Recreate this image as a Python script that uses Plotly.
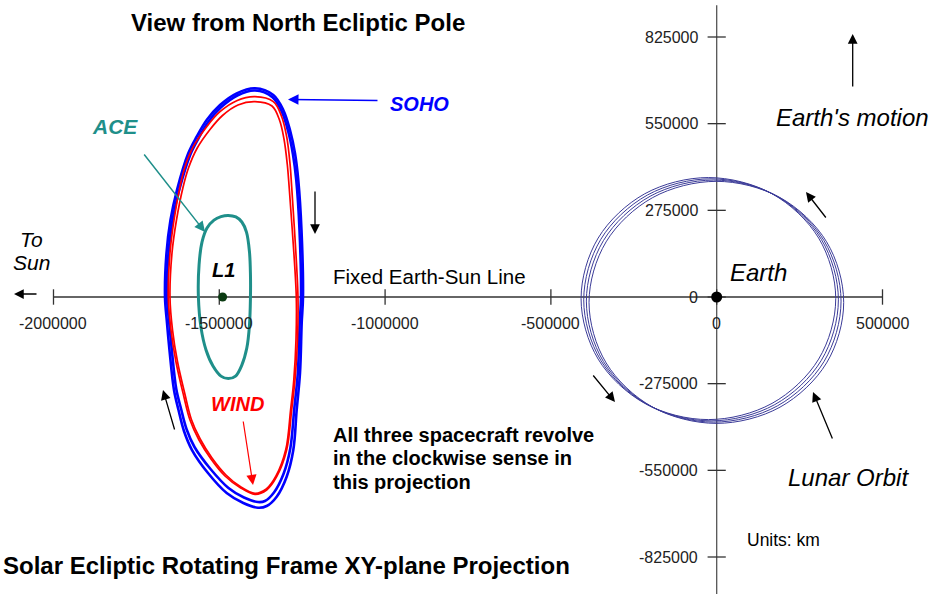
import plotly.graph_objects as go

W, H = 933, 594
X_RANGE = [-2161300, 652300]
Y_RANGE = [-942400, 942400]

# ---- axis ticks ----
x_tickvals = [-2000000, -1500000, -1000000, -500000, 0, 500000]
x_ticktext = ["-2000000", "-1500000", "-1000000", "-500000", "0", "500000"]
y_tickvals = [825000, 550000, 275000, 0, -275000, -550000, -825000]
y_ticktext = ["825000", "550000", "275000", "0", "-275000", "-550000", "-825000"]
x_axis_span = [-2000000, 500000]
y_axis_span = [926000, -942400]

# ---- SOHO (two loops) ----
soho1_x = [-1663700, -1659200, -1647200, -1627600, -1593500, -1568200, -1538000, -1497900, -1447500, -1392300,
           -1337100, -1307000, -1286800, -1271700, -1261800, -1252100, -1247600, -1251500, -1256600, -1266600,
           -1276800, -1296800, -1326900, -1357100, -1383300, -1427600, -1477700, -1534100, -1582300, -1606500,
           -1623000, -1636600, -1650200, -1657700]
soho1_y = [0, 139600, 244300, 339500, 456000, 508600, 561600, 609200, 646300, 662200,
           640900, 593400, 529900, 456000, 371200, 212600, 0, -82500, -241100, -358500,
           -485500, -570200, -633600, -663200, -668500, -653600, -621900, -558400, -485500, -425200,
           -358500, -295100, -168200, -82500]
soho2_x = [-1657700, -1653200, -1641200, -1621600, -1587800, -1563100, -1533500, -1494900, -1445700, -1392300,
           -1339500, -1311500, -1292200, -1277800, -1267800, -1258100, -1253600, -1257500, -1263200, -1274100,
           -1285900, -1306400, -1335100, -1362200, -1383300, -1425600, -1472300, -1526500, -1574800, -1598900,
           -1615500, -1629700, -1643300, -1651100]
soho2_y = [0, 139600, 242700, 336300, 450600, 502900, 555300, 601900, 639400, 655200,
           634000, 587600, 525100, 452200, 369700, 212600, 0, -82500, -241100, -357000,
           -480700, -561600, -620300, -647300, -650500, -636200, -606000, -545800, -476000, -418800,
           -353800, -291900, -166600, -80900]

# ---- WIND (two loops) ----
wind1_x = [-1653800, -1648700, -1636600, -1618500, -1603400, -1578400, -1538000, -1497900, -1447500, -1392300,
           -1337100, -1311800, -1296800, -1286800, -1281700, -1273200, -1262700, -1264200, -1271700, -1281700,
           -1296800, -1326900, -1357100, -1392300, -1437600, -1482800, -1525000, -1561200, -1588400, -1608000,
           -1630600, -1645700]
wind1_y = [0, 139600, 244300, 350000, 413400, 476900, 540400, 588000, 622900, 635600,
           619700, 572100, 508600, 424200, 350000, 212600, 0, -136400, -263400, -358500,
           -485500, -570200, -612400, -626000, -604500, -568000, -514000, -453700, -390300, -311000,
           -206200, -104700]
wind2_x = [-1648700, -1642600, -1629100, -1609500, -1592900, -1567300, -1528000, -1490300, -1443600, -1392300,
           -1341100, -1318500, -1304900, -1294900, -1289200, -1279900, -1267800, -1268700, -1275300, -1285000,
           -1299500, -1329000, -1358300, -1392300, -1436700, -1479800, -1522000, -1557600, -1584400, -1603400,
           -1626100, -1641100]
wind2_y = [0, 139600, 244300, 347400, 409300, 471200, 531500, 575900, 609200, 619700,
           606000, 561600, 501300, 420400, 347400, 212600, 0, -136400, -263400, -358500,
           -483900, -568000, -609200, -622900, -601300, -564800, -510900, -450600, -387700, -309400,
           -204700, -104100]

# ---- ACE ----
ace_x = [-1563000, -1561000, -1552000, -1537000, -1516000, -1495000, -1473000, -1450000, -1432000,
         -1418000, -1409000, -1406000, -1406000, -1409000, -1417000, -1432000, -1451000, -1473000,
         -1495000, -1519000, -1540000, -1555000]
ace_y = [0, 102000, 175000, 219000, 244000, 255000, 259000, 254000, 238000,
         206000, 143000, 70000, 0, -89000, -162000, -216000, -251000, -259000,
         -251000, -219000, -168000, -98000]

# ---- Lunar orbit (four loops) ----
moon1_x = [359000, 307500, 167000, -25000, -217000, -357500, -409000, -357500, -217000, -25000, 167000, 307500]
moon1_y = [-5000, 187000, 327500, 379000, 327500, 187000, -5000, -197000, -337500, -389000, -337500, -197000]
moon2_x = [367000, 315500, 175000, -17000, -209000, -349500, -401000, -349500, -209000, -17000, 175000, 315500]
moon2_y = [-9000, 183000, 323500, 375000, 323500, 183000, -9000, -201000, -341500, -393000, -341500, -201000]
moon3_x = [375000, 323500, 183000, -9000, -201000, -341500, -393000, -341500, -201000, -9000, 183000, 323500]
moon3_y = [-13000, 179000, 319500, 371000, 319500, 179000, -13000, -205000, -345500, -397000, -345500, -205000]
moon4_x = [383000, 331500, 191000, -1000, -193000, -333500, -385000, -333500, -193000, -1000, 191000, 331500]
moon4_y = [-17000, 175000, 315500, 367000, 315500, 175000, -17000, -209000, -349500, -401000, -349500, -209000]

l1_point = (-1490000, 0)
earth_point = (0, 0)

FONT = "Liberation Sans, Arial, sans-serif"
BLUE = "#0000ff"
RED = "#ff0000"
TEAL = "#1f8f8a"
NAVY = "#3b3b98"


def closed(xs, ys):
    # repeating the first point makes plotly draw a closed smooth spline
    return list(xs) + [xs[0]], list(ys) + [ys[0]]


fig = go.Figure()

# axes
fig.add_trace(go.Scatter(x=x_axis_span, y=[0, 0], mode="lines",
                         line=dict(color="#333333", width=1.3), hoverinfo="skip"))
fig.add_trace(go.Scatter(x=[0, 0], y=y_axis_span, mode="lines",
                         line=dict(color="#555555", width=1.3), hoverinfo="skip"))
fig.add_trace(go.Scatter(x=x_tickvals, y=[0] * len(x_tickvals), mode="markers",
                         marker=dict(symbol="line-ns", size=11, line=dict(color="#333333", width=1.3)),
                         hoverinfo="skip"))
fig.add_trace(go.Scatter(x=[0] * len(y_tickvals), y=y_tickvals, mode="markers",
                         marker=dict(symbol="line-ew", size=13, line=dict(color="#333333", width=1.3)),
                         hoverinfo="skip"))

# lunar orbit loops
for mx, my in [(moon1_x, moon1_y), (moon2_x, moon2_y), (moon3_x, moon3_y), (moon4_x, moon4_y)]:
    cx, cy = closed(mx, my)
    fig.add_trace(go.Scatter(x=cx, y=cy, mode="lines",
                             line=dict(color=NAVY, width=1, shape="spline", smoothing=1.0),
                             hoverinfo="skip"))

# halo orbits
for ox, oy, col, w in [(soho1_x, soho1_y, BLUE, 2.6), (soho2_x, soho2_y, BLUE, 2.6),
                       (wind1_x, wind1_y, RED, 1.7), (wind2_x, wind2_y, RED, 1.7),
                       (ace_x, ace_y, TEAL, 3)]:
    cx, cy = closed(ox, oy)
    fig.add_trace(go.Scatter(x=cx, y=cy, mode="lines",
                             line=dict(color=col, width=w, shape="spline", smoothing=1.0),
                             hoverinfo="skip"))

# points
fig.add_trace(go.Scatter(x=[l1_point[0]], y=[l1_point[1]], mode="markers",
                         marker=dict(color="#0b3b12", size=9), hoverinfo="skip"))
fig.add_trace(go.Scatter(x=[earth_point[0]], y=[earth_point[1]], mode="markers",
                         marker=dict(color="#000000", size=11), hoverinfo="skip"))

ann = []
# tick labels
for v, t in zip(x_tickvals, x_ticktext):
    ann.append(dict(x=v, y=0, xref="x", yref="y", text=t, showarrow=False,
                    yshift=-26, xanchor="center", yanchor="middle",
                    font=dict(family=FONT, size=16, color="#222222")))
for v, t in zip(y_tickvals, y_ticktext):
    ann.append(dict(x=0, y=v, xref="x", yref="y", text=t, showarrow=False,
                    xshift=-17, xanchor="right", yanchor="middle",
                    font=dict(family=FONT, size=16, color="#222222")))


def P(px, py):
    return px / W, 1 - py / H


def label(text, px, py, size, color="#000000", bold=False, italic=False):
    x, y = P(px, py)
    ann.append(dict(x=x, y=y, xref="paper", yref="paper", text=text, showarrow=False,
                    xanchor="left", yanchor="middle",
                    font=dict(family=FONT, size=size, color=color,
                              weight="bold" if bold else "normal",
                              style="italic" if italic else "normal")))


def arrow(hx, hy, tx, ty, color="#000000", width=1.3, size=1.5):
    x, y = P(hx, hy)
    ann.append(dict(x=x, y=y, xref="paper", yref="paper", text="", showarrow=True,
                    ax=tx - hx, ay=ty - hy, axref="pixel", ayref="pixel",
                    arrowhead=2, arrowsize=size, arrowwidth=width, arrowcolor=color,
                    standoff=0, startstandoff=0))


label("View from North Ecliptic Pole", 129, 23, 24, bold=True)
label("SOHO", 388, 104, 20, BLUE, bold=True, italic=True)
label("ACE", 90, 126, 21, TEAL, bold=True, italic=True)
label("WIND", 209, 404, 20, RED, bold=True, italic=True)
label("L1", 210, 270, 20, bold=True, italic=True)
label("To", 18, 240, 21, italic=True)
label("Sun", 11, 262, 21, italic=True)
label("Fixed Earth-Sun Line", 331, 276, 20.5)
label("Earth", 728, 272, 24, italic=True)
label("Earth's motion", 774, 117, 24, italic=True)
label("Lunar Orbit", 786, 477, 24, italic=True)
label("Units: km", 745, 540, 17.5)
label("All three spacecraft revolve", 331, 435, 20, bold=True)
label("in the clockwise sense in", 331, 458, 20, bold=True)
label("this projection", 331, 482, 20, bold=True)
label("Solar Ecliptic Rotating Frame XY-plane Projection", 1, 565, 24, bold=True)

arrow(288, 99.5, 379, 100.5, BLUE, 1.5, 1.4)
arrow(205, 232, 143, 153, TEAL, 1.5, 1.4)
arrow(253, 485, 243, 420, RED, 1.2, 1.7)
arrow(315, 234, 315, 190)
arrow(163, 390, 175, 431)
arrow(14, 294, 38, 294)
arrow(852.7, 34, 852.7, 88)
arrow(806, 192, 827, 219)
arrow(615, 402, 592, 374)
arrow(813, 392, 833, 440)

fig.update_layout(
    width=W, height=H,
    margin=dict(l=0, r=0, t=0, b=0),
    paper_bgcolor="white", plot_bgcolor="white",
    showlegend=False,
    xaxis=dict(range=X_RANGE, visible=False, fixedrange=True),
    yaxis=dict(range=Y_RANGE, visible=False, fixedrange=True),
    annotations=ann,
)

fig.write_html("out.html", config={"displayModeBar": False},
               post_script="document.body.style.margin='0';document.body.style.overflow='hidden';")
